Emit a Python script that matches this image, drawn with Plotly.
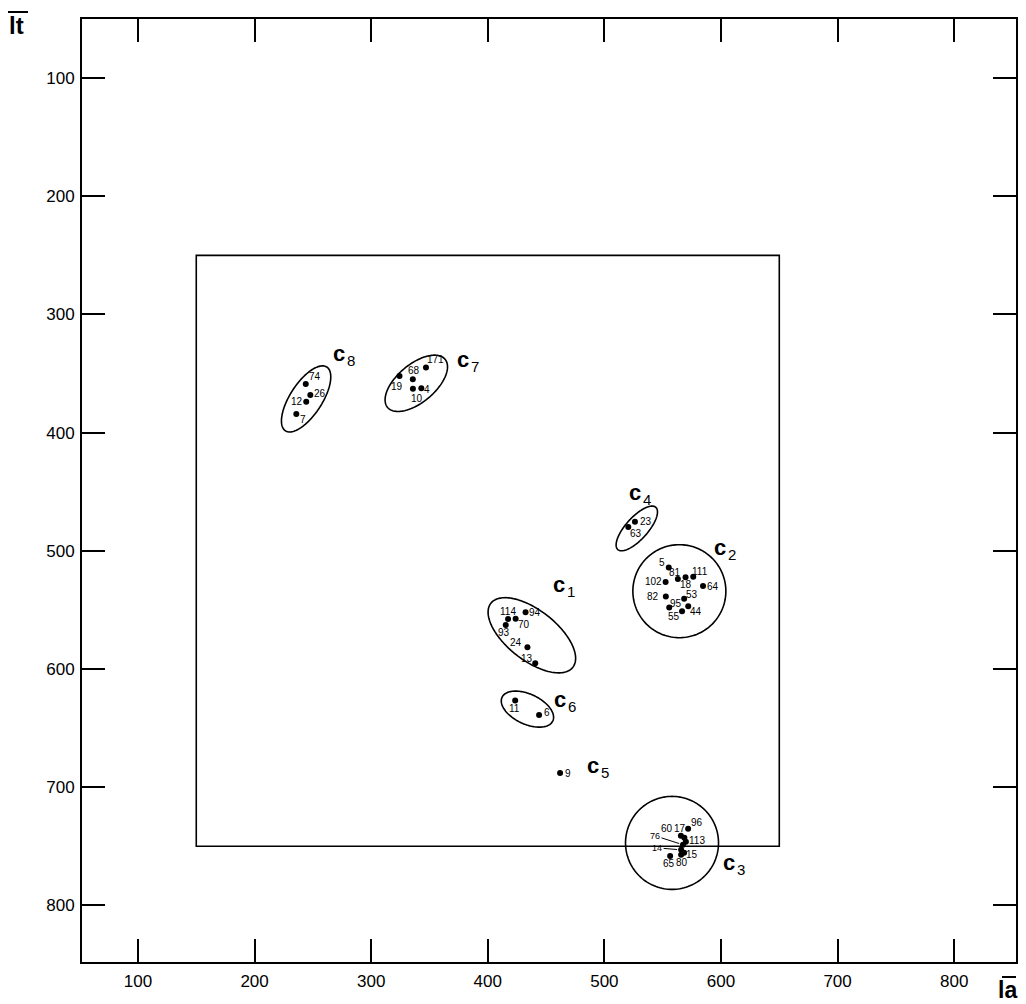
import numpy as np
import plotly.graph_objects as go

# ---------------- data ----------------
point_ids = ["74", "26", "12", "7",
             "19", "68", "171", "4", "10",
             "23", "63",
             "5", "81", "18", "111", "102", "64", "82", "53", "95", "44", "55",
             "94", "114", "70", "93", "24", "13",
             "11", "6",
             "9",
             "96", "17", "60", "113", "76", "14", "15", "80", "65"]
la_values = [243.9, 247.8, 244.3, 235.8,
             324.3, 335.7, 347.0, 343.0, 335.8,
             526.2, 520.5,
             555.2, 563.0, 569.6, 576.2, 552.5, 584.6, 552.7, 568.4, 555.6, 571.9, 566.6,
             432.4, 417.4, 423.9, 415.4, 434.0, 440.7,
             423.5, 444.0,
             462.0,
             571.8, 565.6, 568.6, 569.9, 567.4, 565.8, 568.4, 565.8, 556.4]
lt_values = [358.8, 368.1, 373.8, 384.3,
             352.2, 354.9, 344.9, 362.5, 362.8,
             475.5, 479.8,
             514.1, 523.8, 522.4, 522.0, 526.5, 529.9, 538.7, 540.5, 548.0, 546.9, 551.2,
             552.0, 557.7, 557.6, 562.8, 581.6, 595.1,
             626.8, 639.0,
             688.0,
             735.2, 741.2, 742.9, 746.2, 748.8, 753.1, 755.6, 757.3, 758.3]

# clusters: name, centre (la, lt)
cluster_names = ["1", "2", "3", "4", "5", "6", "7", "8"]
cluster_la = [437.8, 564.3, 558.0, 527.8, None, 434.0, 338.7, 244.2]
cluster_lt = [571.5, 534.2, 747.2, 481.1, None, 634.0, 358.3, 371.5]
# cluster label anchor (la, lt)
cluster_label_la = [454.3, 592.4, 599.9, 519.0, 483.0, 455.4, 372.1, 265.6]
cluster_label_lt = [528.7, 497.0, 763.7, 450.9, 682.0, 626.0, 338.2, 333.0]

# inner reference square
box_la = [150, 650]
box_lt = [250, 750]

x_ticks = [100, 200, 300, 400, 500, 600, 700, 800]
y_ticks = [100, 200, 300, 400, 500, 600, 700, 800]

# ---------------- layout / style ----------------
W, H = 1026, 1004
ML, MR, MT, MB = 82, 10, 19, 42
PW, PH = W - ML - MR, H - MT - MB
X_RANGE = [52, 853]
Y_RANGE = [848, 50]
SX = PW / (X_RANGE[1] - X_RANGE[0])
SY = PH / (Y_RANGE[0] - Y_RANGE[1])
FONT = "Liberation Sans, Arial, Helvetica, sans-serif"

# ellipse shapes in pixel units (semi-axes a, b; angle in degrees, screen ccw)
ell_a = [52, 46.5, 46.5, 28.4, None, 28, 37.5, 38]
ell_b = [25, 46.5, 46.5, 11, None, 15, 19, 16]
ell_ang = [-38, 0, 0, 48, None, -25, 40, 57]

# label offsets (pixels; dy positive = up)
lab_dx = [9, 10, -9, 7,
          -3, 1, 10, 6, 4,
          11, 8,
          -7, -3, 0, 7, -12, 10, -13, 8, 7, 8, -8,
          9, 0, 8, -2, -11, -8,
          -1, 8,
          8,
          9, -1, -17, 11, -28, -24, 8, 1, -1]
lab_dy = [7, 1, 0, -5,
          -10, 9, 8, -1, -10,
          0, -7,
          5, 6, -7, 5, 1, 0, 0, 4, 4, -5, -5,
          0, 7, -6, -8, 5, 5,
          -8, 3,
          -1,
          6, 7, 9, 1, 9, 2, -2, -8, -7]
leader_ids = {"76", "14"}


def ellipse_path(cx, cy, a, b, ang):
    t = np.linspace(0, 2 * np.pi, 145)
    th = np.radians(ang)
    u = a * np.cos(t)
    v = b * np.sin(t)
    dx = u * np.cos(th) - v * np.sin(th)
    dup = u * np.sin(th) + v * np.cos(th)
    xs = cx + dx / SX
    ys = cy - dup / SY
    return "M " + " L ".join(f"{x:.3f},{y:.3f}" for x, y in zip(xs, ys)) + " Z"


def paper_x(px):
    return (px - ML) / PW


def paper_y(py):
    return 1 - (py - MT) / PH


fig = go.Figure()
fig.add_trace(go.Scatter(
    x=la_values, y=lt_values, mode="markers",
    marker=dict(size=6, color="black"),
    hoverinfo="skip", showlegend=False))

shapes = []
annotations = []

# inner square
shapes.append(dict(type="rect", xref="x", yref="y",
                   x0=box_la[0], x1=box_la[1], y0=box_lt[0], y1=box_lt[1],
                   line=dict(color="black", width=1.6)))

# cluster outlines
for i, name in enumerate(cluster_names):
    if cluster_la[i] is None:
        continue
    shapes.append(dict(type="path", xref="x", yref="y",
                       path=ellipse_path(cluster_la[i], cluster_lt[i],
                                         ell_a[i], ell_b[i], ell_ang[i]),
                       line=dict(color="black", width=1.6)))

# cluster labels
for i, name in enumerate(cluster_names):
    annotations.append(dict(x=cluster_label_la[i], y=cluster_label_lt[i],
                            xref="x", yref="y", text="<b>c</b>", showarrow=False,
                            xanchor="left", yanchor="middle",
                            font=dict(family=FONT, size=22, color="black")))
    annotations.append(dict(x=cluster_label_la[i], y=cluster_label_lt[i],
                            xref="x", yref="y", text=name, showarrow=False,
                            xanchor="left", yanchor="middle",
                            xshift=14, yshift=-7,
                            font=dict(family=FONT, size=15, color="black")))

# point labels
for pid, xv, yv, dx, dy in zip(point_ids, la_values, lt_values, lab_dx, lab_dy):
    if pid in leader_ids:
        annotations.append(dict(x=xv, y=yv, xref="x", yref="y", text=pid,
                                showarrow=True, arrowhead=0, arrowwidth=1,
                                arrowcolor="black", ax=dx, ay=-dy, standoff=4,
                                font=dict(family=FONT, size=9, color="black")))
    else:
        annotations.append(dict(x=xv, y=yv, xref="x", yref="y", text=pid,
                                showarrow=False, xshift=dx, yshift=dy,
                                font=dict(family=FONT, size=10, color="black")))

# axis names with overbars
annotations.append(dict(x=paper_x(7), y=paper_y(26), xref="paper", yref="paper",
                        text="<b>lt</b>", showarrow=False, xanchor="left",
                        yanchor="middle",
                        font=dict(family=FONT, size=24, color="black")))
shapes.append(dict(type="line", xref="paper", yref="paper",
                   x0=paper_x(8), x1=paper_x(28), y0=paper_y(12), y1=paper_y(12),
                   line=dict(color="black", width=2)))
annotations.append(dict(x=paper_x(996), y=paper_y(990), xref="paper", yref="paper",
                        text="<b>la</b>", showarrow=False, xanchor="left",
                        yanchor="middle",
                        font=dict(family=FONT, size=23, color="black")))
shapes.append(dict(type="line", xref="paper", yref="paper",
                   x0=paper_x(1002), x1=paper_x(1016), y0=paper_y(977), y1=paper_y(977),
                   line=dict(color="black", width=2)))

axis_common = dict(ticks="inside", ticklen=23, tickwidth=2, tickcolor="black",
                   showline=True, linecolor="black", linewidth=2, mirror="ticks",
                   showgrid=False, zeroline=False, automargin=False,
                   tickfont=dict(family=FONT, size=17, color="black"))

fig.update_layout(
    width=W, height=H,
    margin=dict(l=ML, r=MR, t=MT, b=MB, pad=0),
    paper_bgcolor="white", plot_bgcolor="white",
    xaxis=dict(range=X_RANGE, tickvals=x_ticks, ticklabelstandoff=3, **axis_common),
    yaxis=dict(range=Y_RANGE, tickvals=y_ticks, ticklabelstandoff=2, **axis_common),
    shapes=shapes, annotations=annotations,
    showlegend=False,
)

fig.write_html(
    "out.html",
    config={"displayModeBar": False},
    post_script="document.body.style.margin='0px';document.body.style.overflow='hidden';",
)
